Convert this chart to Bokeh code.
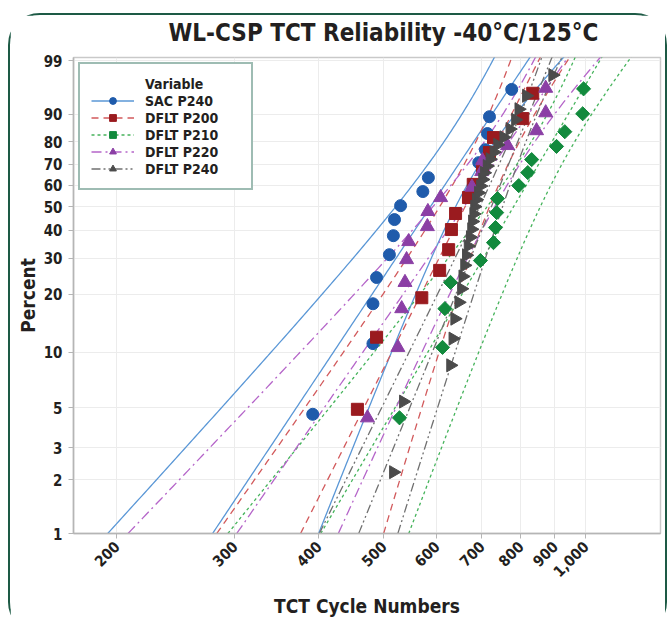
import numpy as np
from math import pi
from bokeh.plotting import figure
from bokeh.models import (FixedTicker, CustomJSTickFormatter, NumeralTickFormatter,
                          Legend, LegendItem, Range1d, Title)
from bokeh.embed import file_html
from bokeh.resources import INLINE

# ---------------- data ----------------
series_names = ["SAC P240", "DFLT P200", "DFLT P210", "DFLT P220", "DFLT P240"]

sac_p240_cycles = [392, 482, 482, 488, 510, 517, 519, 530, 572, 583, 693, 709, 714, 719, 776]
sac_p240_pct = [4.6, 11.1, 17.9, 24.2, 31.1, 37.9, 44.4, 50.5, 57.0, 63.6, 70.7, 76.6, 83.3, 89.2, 95.8]

dflt_p200_cycles = [457, 488, 570, 606, 625, 631, 640, 669, 680, 702, 719, 729, 806, 834]
dflt_p200_pct = [4.9, 12.0, 19.2, 26.2, 32.8, 40.3, 47.0, 54.2, 60.4, 67.9, 75.3, 81.7, 88.6, 95.1]

dflt_p210_cycles = [528, 612, 617, 629, 697, 729, 734, 737, 739, 795, 820, 831, 905, 931, 990, 993]
dflt_p210_pct = [4.4, 10.6, 16.9, 22.9, 29.2, 35.3, 41.1, 47.4, 53.7, 59.8, 66.0, 72.1, 78.0, 84.0, 90.1, 95.9]

dflt_p220_cycles = [473, 525, 532, 538, 541, 545, 581, 582, 608, 677, 700, 702, 765, 845, 872, 872]
dflt_p220_pct = [4.4, 10.6, 16.9, 22.9, 29.5, 35.7, 41.5, 47.9, 54.2, 59.1, 66.5, 71.6, 78.4, 84.4, 90.4, 96.0]

dflt_p240_cycles = [517, 535, 629, 634, 638, 647, 653, 656, 660, 664,
                    668, 673, 676, 678, 681, 683, 687, 692, 697, 702,
                    706, 713, 720, 730, 739, 755, 771, 786, 795, 816, 893]
dflt_p240_pct = [2.2, 5.4, 8.5, 11.8, 15.0, 18.2, 21.3, 24.5, 27.7, 30.9,
                 34.1, 37.3, 40.4, 43.6, 46.8, 50.0, 53.2, 56.4, 59.6, 62.7,
                 65.9, 69.1, 72.3, 75.5, 78.7, 81.8, 85.0, 88.2, 91.4, 94.6, 97.8]

# fitted line (cycles at 1 % and 99 %) and 95 % bounds (cycles at 1 %, 50 %, 99 %)
fit_pct = [1, 99]
bound_pct = [1, 50, 99]
sac_p240_fit = [278, 820]
sac_p240_lower = [194, 521, 727]
sac_p240_upper = [400, 640, 918]
dflt_p200_fit = [376, 851]
dflt_p200_lower = [282, 606, 773]
dflt_p200_upper = [500, 719, 940]
dflt_p210_fit = [403, 1050]
dflt_p210_lower = [293, 713, 960]
dflt_p210_upper = [545, 856, 1159]
dflt_p220_fit = [302, 934]
dflt_p220_lower = [208, 592, 837]
dflt_p220_upper = [428, 732, 1042]
dflt_p240_fit = [459, 887]
dflt_p240_lower = [401, 695, 857]
dflt_p240_upper = [525, 752, 917]

x_ticks = [200, 300, 400, 500, 600, 700, 800, 900, 1000]
y_tick_pct = [1, 2, 3, 5, 10, 20, 30, 40, 50, 60, 70, 80, 90, 99]

title_text = "WL-CSP TCT Reliability -40\u00b0C/125\u00b0C"
x_title = "TCT Cycle Numbers"
y_title = "Percent"
legend_title = "Variable"

# ---------------- helpers ----------------
def wb(pct):
    q = np.asarray(pct, dtype=float) / 100.0
    return np.log(-np.log(1.0 - q))


def curves(fit, lower, upper):
    w_f = wb(fit_pct)
    b = (np.log(fit[1]) - np.log(fit[0])) / (w_f[1] - w_f[0])
    a = np.log(fit[0]) - b * w_f[0]
    ww = np.linspace(float(wb(1)), float(wb(99.8)), 160)
    wl = wb(bound_pct)
    res = [np.exp(a + b * ww)]
    for vals, sgn in ((lower, -1.0), (upper, 1.0)):
        d2 = (np.log(vals) - (a + b * wl)) ** 2
        c = np.polyfit(wl, d2, 2)
        q = np.clip(np.polyval(c, ww), 0, None)
        res.append(np.exp(a + b * ww + sgn * np.sqrt(q)))
    return ww, res

FONT = "DejaVu Sans Condensed, sans-serif"
TXT = "#231f20"
Y_BOTTOM = float(wb(1))
Y_TOP = float(wb(99)) + 0.04

p = figure(width=655, height=617, x_axis_type="log",
           x_range=Range1d(172.5, 1293),
           y_range=Range1d(Y_BOTTOM, Y_TOP),
           output_backend="svg", toolbar_location=None,
           min_border_left=63, min_border_right=5,
           min_border_top=42, min_border_bottom=99,
           styles={"margin": "15px 6px 0px 10px",
                   "outline": "2px solid #1d5a45", "outline-offset": "0px",
                   "border-radius": "30px"})
p.title = None

# spacer next to the frame, then the real title further out
p.add_layout(Title(text=" ", text_font_size="1px", standoff=8), "above")
p.add_layout(Title(text=title_text, align="left", offset=95, standoff=0,
                   text_font=FONT, text_font_size="24px", text_font_style="bold",
                   text_color=TXT), "above")

p.outline_line_color = "#c9c9c9"
p.outline_line_width = 1.5
p.background_fill_color = "white"
p.border_fill_color = "white"

p.xaxis.ticker = FixedTicker(ticks=x_ticks, minor_ticks=[])
p.xaxis.formatter = NumeralTickFormatter(format="0,0")
p.xaxis.major_label_orientation = pi / 4
p.yaxis.ticker = FixedTicker(ticks=[float(v) for v in wb(y_tick_pct)], minor_ticks=[])
p.yaxis.formatter = CustomJSTickFormatter(
    code="return String(Math.round(100 * (1 - Math.exp(-Math.exp(tick)))));")
p.xaxis.axis_label = x_title
p.yaxis.axis_label = y_title

for ax in (p.xaxis, p.yaxis):
    ax.axis_line_color = "#b5b5b5"
    ax.axis_line_width = 1.5
    ax.major_tick_line_color = "#b5b5b5"
    ax.major_tick_out = 5
    ax.major_tick_in = 0
    ax.minor_tick_line_color = None
    ax.major_label_text_font = FONT
    ax.major_label_text_font_style = "bold"
    ax.major_label_text_font_size = "15px"
    ax.major_label_text_color = TXT
    ax.axis_label_text_font = FONT
    ax.axis_label_text_font_style = "bold"
    ax.axis_label_text_font_size = "19px"
    ax.axis_label_text_color = TXT
p.yaxis.major_label_standoff = 6
p.yaxis.axis_label_standoff = 2
p.xaxis.major_label_standoff = 5
p.xaxis.axis_label_standoff = 10

p.grid.grid_line_color = "#ececec"
p.grid.grid_line_width = 1

styles = [
    dict(cycles=sac_p240_cycles, pct=sac_p240_pct, fit=sac_p240_fit, lo=sac_p240_lower, hi=sac_p240_upper,
         marker="circle", size=12, angle=0.0, mcolor="#1f5bab", lcolor="#5a97d6", dash="solid", lw=1.3),
    dict(cycles=dflt_p200_cycles, pct=dflt_p200_pct, fit=dflt_p200_fit, lo=dflt_p200_lower, hi=dflt_p200_upper,
         marker="square", size=12, angle=0.0, mcolor="#9a1b1f", lcolor="#d25a5c", dash="7 5", lw=1.3),
    dict(cycles=dflt_p210_cycles, pct=dflt_p210_pct, fit=dflt_p210_fit, lo=dflt_p210_lower, hi=dflt_p210_upper,
         marker="square", size=10, angle=pi / 4, mcolor="#128a3d", lcolor="#45b35b", dash="3 3", lw=1.3),
    dict(cycles=dflt_p220_cycles, pct=dflt_p220_pct, fit=dflt_p220_fit, lo=dflt_p220_lower, hi=dflt_p220_upper,
         marker="triangle", size=14, angle=0.0, mcolor="#8b3fa5", lcolor="#b565c9", dash="10 4 2 4", lw=1.3),
    dict(cycles=dflt_p240_cycles, pct=dflt_p240_pct, fit=dflt_p240_fit, lo=dflt_p240_lower, hi=dflt_p240_upper,
         marker="triangle", size=13, angle=-pi / 2, mcolor="#4b4b4b", lcolor="#707070", dash="9 3 2 3 2 3", lw=1.3),
]

legend_items = []
dummy = p.scatter(x=[500], y=[0.0], size=1, alpha=0)
legend_items.append(LegendItem(label=legend_title, renderers=[dummy]))

line_rs = []
for s in styles:
    ww, (fit_c, lo_c, hi_c) = curves(s["fit"], s["lo"], s["hi"])
    r_fit = p.line(fit_c, ww, line_color=s["lcolor"], line_dash=s["dash"], line_width=s["lw"])
    p.line(lo_c, ww, line_color=s["lcolor"], line_dash=s["dash"], line_width=s["lw"])
    p.line(hi_c, ww, line_color=s["lcolor"], line_dash=s["dash"], line_width=s["lw"])
    line_rs.append(r_fit)

for s, name, r_fit in zip(styles, series_names, line_rs):
    r_pts = p.scatter(x=s["cycles"], y=wb(s["pct"]), marker=s["marker"], size=s["size"],
                      angle=s["angle"], fill_color=s["mcolor"], line_color=s["mcolor"])
    legend_items.append(LegendItem(label=name, renderers=[r_fit, r_pts]))

legend = Legend(items=legend_items, location="top_left", margin=5, padding=11,
                spacing=0, label_height=17, glyph_height=17, glyph_width=43,
                label_standoff=11, label_width=95,
                label_text_font=FONT, label_text_font_style="bold",
                label_text_font_size="14px", label_text_color=TXT,
                border_line_color="#3e7a67", border_line_width=2.5,
                background_fill_color="white", background_fill_alpha=1.0)
p.add_layout(legend)

open("out.html", "w").write(file_html(p, INLINE))
